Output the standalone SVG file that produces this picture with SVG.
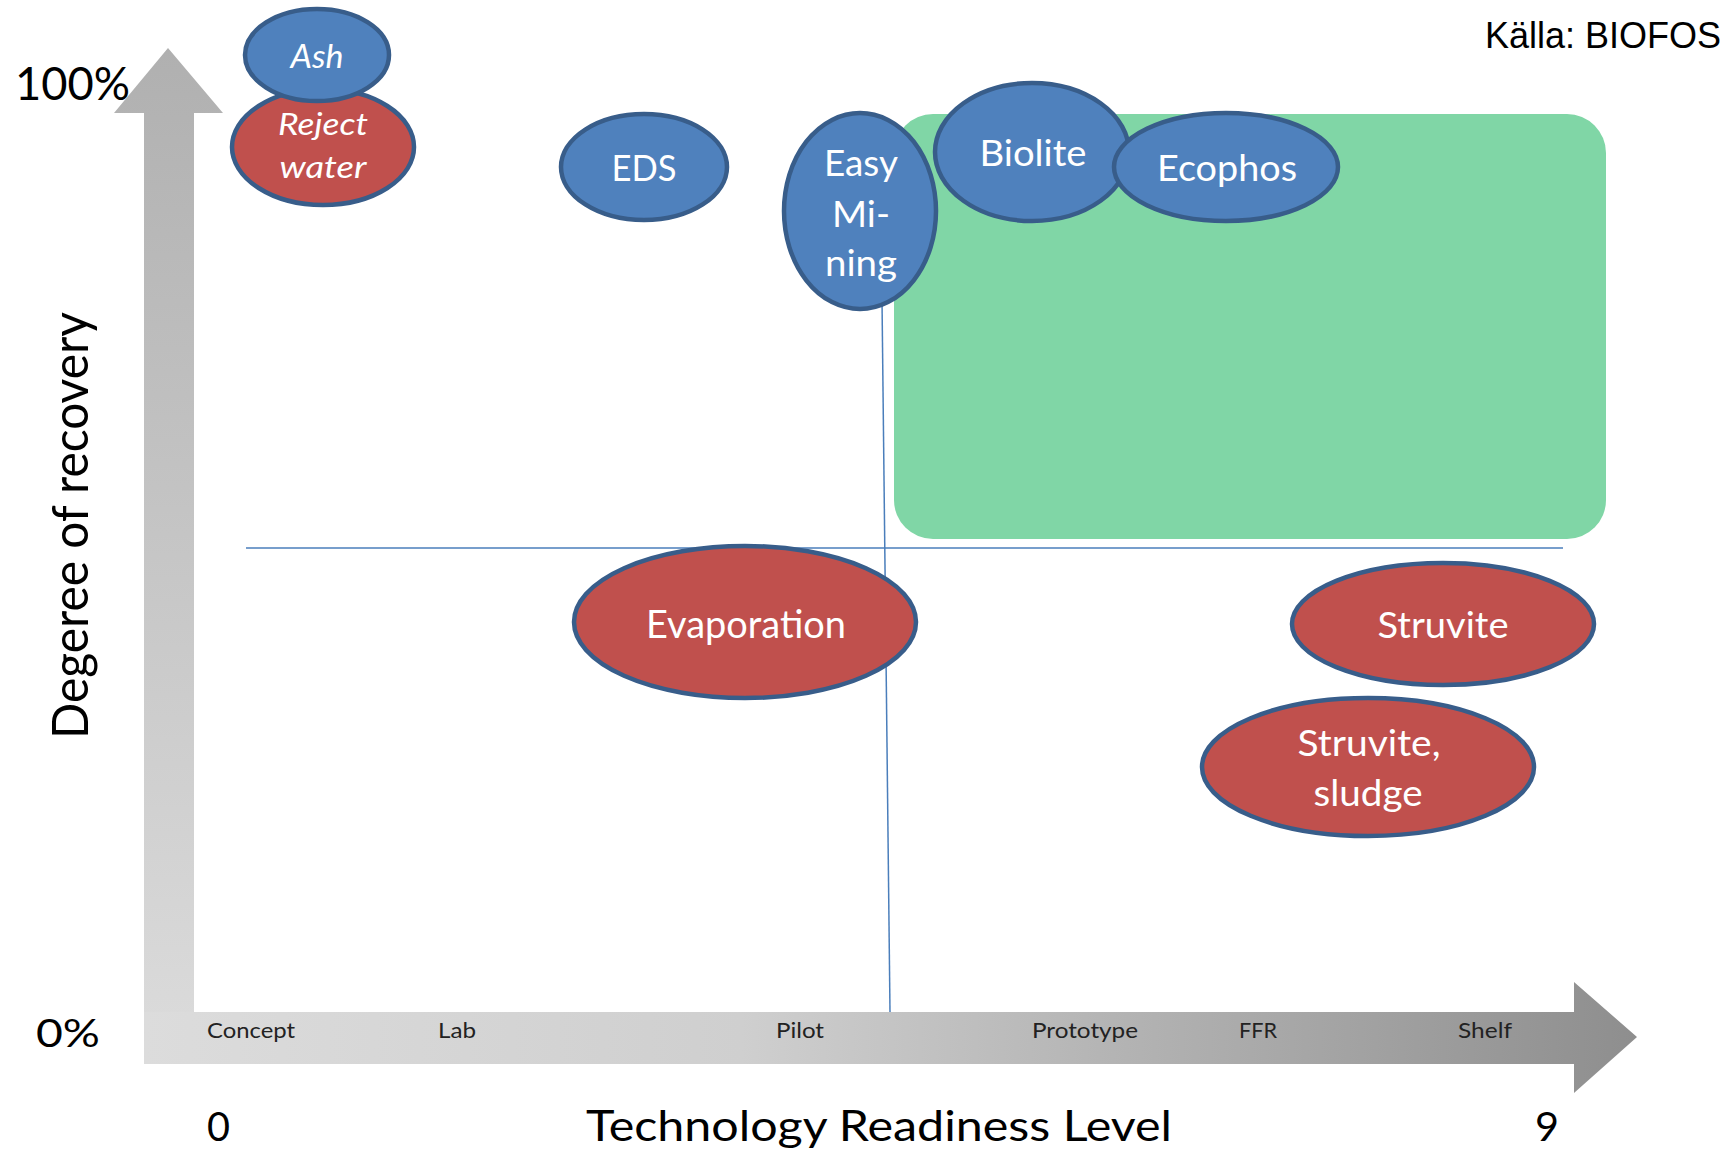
<svg xmlns="http://www.w3.org/2000/svg" width="1734" height="1151" viewBox="0 0 1734 1151">
<defs>
<linearGradient id="gv" x1="0" y1="48" x2="0" y2="1064" gradientUnits="userSpaceOnUse">
<stop offset="0" stop-color="#b0b0b0"/><stop offset="1" stop-color="#dcdcdc"/>
</linearGradient>
<linearGradient id="gh" x1="144" y1="0" x2="1637" y2="0" gradientUnits="userSpaceOnUse">
<stop offset="0" stop-color="#dcdcdc"/><stop offset="0.4" stop-color="#cfcfcf"/><stop offset="1" stop-color="#8e8e8e"/>
</linearGradient>
<style>
.n{stroke:#385d8a;stroke-width:4.5}
.b{fill:#4f81bd}
.r{fill:#c0504d}
.t{font-family:Lato,"Open Sans",sans-serif;fill:#fff;text-anchor:middle}
.k{font-family:Lato,"Open Sans",sans-serif;fill:#000}
.ax{font-family:Lato,"Open Sans",sans-serif;fill:#222;font-size:21px}
.ln{stroke:#4a7ebb;stroke-width:1.5;fill:none}
</style>
</defs>
<rect width="1734" height="1151" fill="#fff"/>
<g id="axes">
<polygon points="168,48 223,113 194,113 194,1064 144,1064 144,113 114,113" fill="url(#gv)"/>
<polygon points="144,1012 1574,1012 1574,982 1637,1037 1574,1093 1574,1064 144,1064" fill="url(#gh)"/>
</g>
<g id="green-zone"><rect x="894" y="114" width="712" height="425" rx="39" fill="#80d6a6"/></g>
<g id="connectors">
<line class="ln" x1="246" y1="548" x2="1563" y2="548"/>
<line class="ln" x1="882" y1="300" x2="890" y2="1012"/>
</g>
<g id="axis-labels">
<text class="k" x="15" y="100" font-size="46" textLength="115" lengthAdjust="spacingAndGlyphs">100%</text>
<text class="k" x="36" y="1047" font-size="38" textLength="64" lengthAdjust="spacingAndGlyphs">0%</text>
<text class="k" x="207" y="1141" font-size="41" textLength="23" lengthAdjust="spacingAndGlyphs">0</text>
<text class="k" x="1535" y="1141" font-size="41" textLength="24" lengthAdjust="spacingAndGlyphs">9</text>
<text class="k" x="586" y="1141" font-size="42" textLength="586" lengthAdjust="spacingAndGlyphs">Technology Readiness Level</text>
<text class="k" transform="translate(88,739) rotate(-90)" font-size="50" textLength="427" lengthAdjust="spacingAndGlyphs">Degeree of recovery</text>
<text class="ax" x="207" y="1038" textLength="88" lengthAdjust="spacingAndGlyphs">Concept</text>
<text class="ax" x="438" y="1038" textLength="38" lengthAdjust="spacingAndGlyphs">Lab</text>
<text class="ax" x="776" y="1038" textLength="48" lengthAdjust="spacingAndGlyphs">Pilot</text>
<text class="ax" x="1032" y="1038" textLength="106" lengthAdjust="spacingAndGlyphs">Prototype</text>
<text class="ax" x="1239" y="1038" textLength="38" lengthAdjust="spacingAndGlyphs">FFR</text>
<text class="ax" x="1458" y="1038" textLength="54" lengthAdjust="spacingAndGlyphs">Shelf</text>
<text x="1485" y="48" font-family="'Liberation Sans',Arial,sans-serif" font-size="36" fill="#000">Källa: BIOFOS</text>
</g>
<g id="reject-water">
<ellipse class="n r" cx="323" cy="147" rx="91" ry="58"/>
<text class="t" x="323" y="135" font-size="31" font-style="italic" textLength="90" lengthAdjust="spacingAndGlyphs">Reject</text>
<text class="t" x="323" y="178" font-size="31" font-style="italic" textLength="87" lengthAdjust="spacingAndGlyphs">water</text>
</g>
<g id="ash">
<ellipse class="n b" cx="317" cy="55" rx="72" ry="46"/>
<text class="t" x="317" y="68" font-size="33" font-style="italic" textLength="53" lengthAdjust="spacingAndGlyphs">Ash</text>
</g>
<g id="eds">
<ellipse class="n b" cx="644" cy="167" rx="83" ry="53"/>
<text class="t" x="644" y="181" font-size="36" textLength="65" lengthAdjust="spacingAndGlyphs">EDS</text>
</g>
<g id="easy-mining">
<ellipse class="n b" cx="860" cy="211" rx="76" ry="98"/>
<text class="t" x="861" y="176" font-size="36" textLength="74" lengthAdjust="spacingAndGlyphs">Easy</text>
<text class="t" x="861" y="227" font-size="36" textLength="58" lengthAdjust="spacingAndGlyphs">Mi-</text>
<text class="t" x="861" y="276" font-size="36" textLength="72" lengthAdjust="spacingAndGlyphs">ning</text>
</g>
<g id="biolite">
<ellipse class="n b" cx="1032" cy="152" rx="97" ry="69"/>
<text class="t" x="1033" y="166" font-size="36" textLength="107" lengthAdjust="spacingAndGlyphs">Biolite</text>
</g>
<g id="ecophos">
<ellipse class="n b" cx="1226" cy="167" rx="112" ry="54"/>
<text class="t" x="1227" y="181" font-size="36" textLength="140" lengthAdjust="spacingAndGlyphs">Ecophos</text>
</g>
<g id="evaporation">
<ellipse class="n r" cx="745" cy="622" rx="171" ry="76"/>
<text class="t" x="746" y="638" font-size="38" textLength="200" lengthAdjust="spacingAndGlyphs">Evaporation</text>
</g>
<g id="struvite">
<ellipse class="n r" cx="1443" cy="624" rx="151" ry="61"/>
<text class="t" x="1443" y="638" font-size="36" textLength="131" lengthAdjust="spacingAndGlyphs">Struvite</text>
</g>
<g id="struvite-sludge">
<ellipse class="n r" cx="1368" cy="767" rx="166" ry="69"/>
<text class="t" x="1369" y="756" font-size="36" textLength="143" lengthAdjust="spacingAndGlyphs">Struvite,</text>
<text class="t" x="1368" y="806" font-size="36" textLength="109" lengthAdjust="spacingAndGlyphs">sludge</text>
</g>
</svg>
